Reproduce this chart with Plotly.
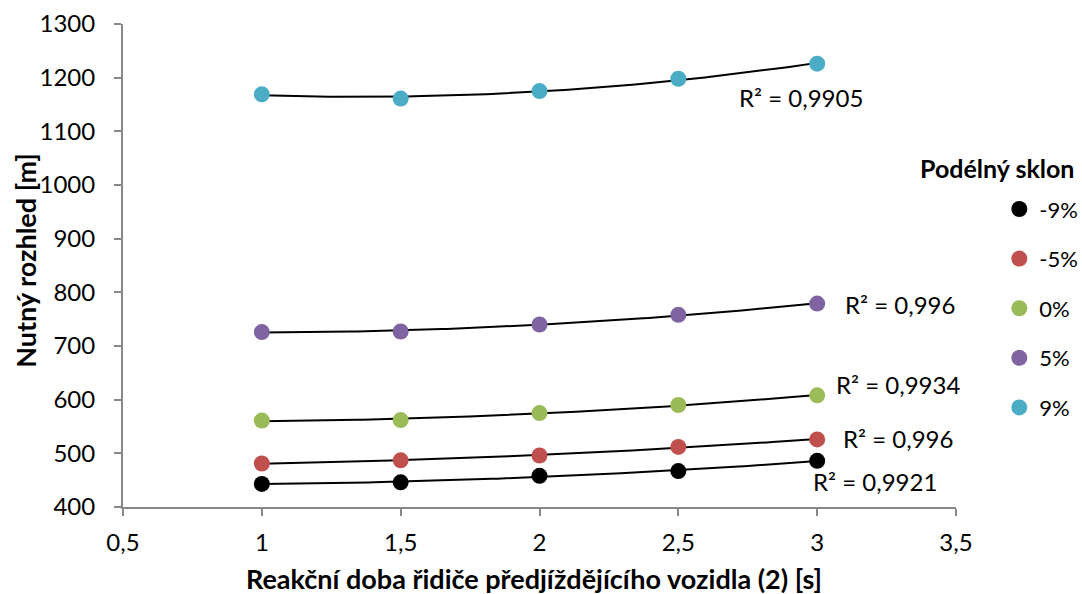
import numpy as np
import plotly.graph_objects as go

x_vals = [1, 1.5, 2, 2.5, 3]
series_names = ["-9%", "-5%", "0%", "5%", "9%"]
y_m9 = [443, 446, 458, 467, 486]
y_m5 = [481, 487, 496, 512, 526]
y_0 = [561, 562, 575, 590, 608]
y_5 = [726, 727, 740, 758, 779]
y_9 = [1169, 1161, 1175, 1198, 1226]
r2_labels = ["R² = 0,9921", "R² = 0,996", "R² = 0,9934", "R² = 0,996", "R² = 0,9905"]
colors = ["#000000", "#C0504D", "#9BBB59", "#8064A2", "#4BACC6"]
label_pos = [(3.21, 447), (3.29, 527), (3.29, 628), (3.30, 777), (2.94, 1163)]

x_ticks = [0.5, 1, 1.5, 2, 2.5, 3, 3.5]
x_tick_text = ["0,5", "1", "1,5", "2", "2,5", "3", "3,5"]
y_ticks = list(range(400, 1301, 100))

FONT = "Lato, 'Open Sans', sans-serif"
FS = 24

fig = go.Figure()
all_y = [y_m9, y_m5, y_0, y_5, y_9]

# trendlines (2nd order polynomial, as Excel)
xs = np.linspace(1, 3, 100)
for ys in all_y:
    c = np.polyfit(x_vals, ys, 2)
    fig.add_trace(go.Scatter(x=xs, y=np.polyval(c, xs), mode="lines",
                             line=dict(color="black", width=2),
                             showlegend=False, hoverinfo="skip"))

for i, (name, ys, col) in enumerate(zip(series_names, all_y, colors)):
    fig.add_trace(go.Scatter(x=x_vals, y=ys, mode="markers", name=name,
                             marker=dict(color=col, size=16),
                             legendgroup=f"g{i}"))

for (lx, ly), txt in zip(label_pos, r2_labels):
    fig.add_annotation(x=lx, y=ly, text=txt, showarrow=False,
                       font=dict(family=FONT, size=24, color="black"),
                       xanchor="center", yanchor="middle")

# axis titles
fig.add_annotation(xref="paper", yref="paper", x=0.493, y=-0.147,
                   text="<b>Reakční doba řidiče předjíždějícího vozidla (2) [s]</b>",
                   showarrow=False, xanchor="center", yanchor="middle",
                   font=dict(family=FONT, size=27, color="black"))
fig.add_annotation(xref="paper", yref="paper", x=-0.117, y=0.511,
                   text="<b>Nutný rozhled [m]</b>", textangle=-90,
                   showarrow=False, xanchor="center", yanchor="middle",
                   font=dict(family=FONT, size=27, color="black"))
# legend title
fig.add_annotation(xref="paper", yref="paper", x=1.144, y=0.702,
                   text="<b>Podélný sklon</b>",
                   showarrow=False, xanchor="right", yanchor="middle",
                   font=dict(family=FONT, size=25, color="black"))

axis_common = dict(showline=True, linecolor="#888888", linewidth=2,
                   ticks="outside", tickcolor="#888888", ticklen=7, tickwidth=2,
                   showgrid=False, zeroline=False, ticklabeloverflow="allow",
                   tickfont=dict(family=FONT, size=FS, color="black"))

fig.update_layout(
    width=1082, height=594,
    margin=dict(l=123, r=126, t=24, b=87, autoexpand=False),
    plot_bgcolor="white", paper_bgcolor="white",
    xaxis=dict(range=[0.5, 3.5], tickvals=x_ticks, ticktext=x_tick_text,
               ticklabelstandoff=6, **axis_common),
    yaxis=dict(range=[400, 1300], tickvals=y_ticks, ticklabelstandoff=14,
               **axis_common),
    legend=dict(x=1.052, y=0.66, xanchor="left", yanchor="top",
                font=dict(family=FONT, size=22, color="black"),
                tracegroupgap=18, itemwidth=30),
)

fig.write_html("out.html", config={"displayModeBar": False},
               post_script="document.body.style.margin='0';document.body.style.overflow='hidden';")
